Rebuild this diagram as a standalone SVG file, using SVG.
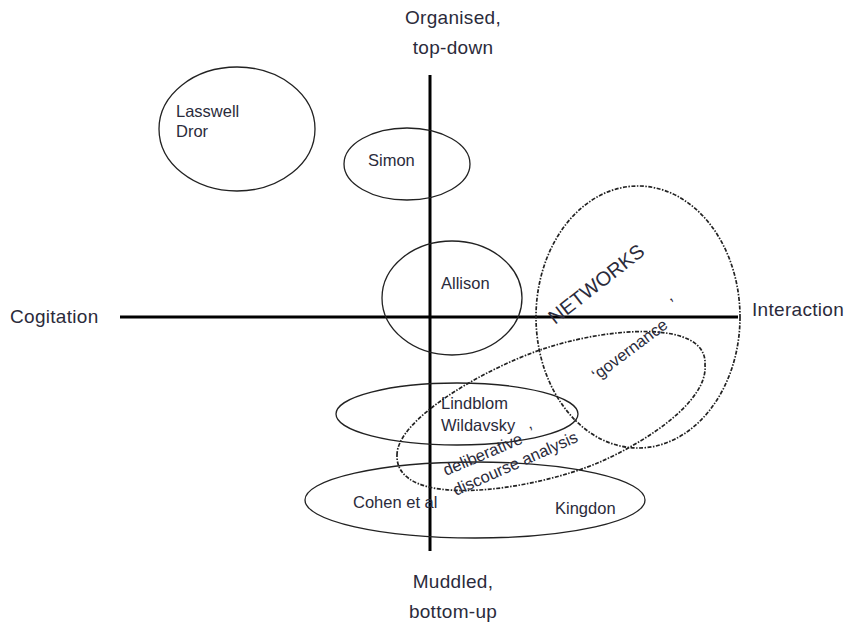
<svg xmlns="http://www.w3.org/2000/svg" width="851" height="632" viewBox="0 0 851 632">
<style>
.t{font-family:"Liberation Sans",Arial,sans-serif;font-size:16.5px;fill:#2b2b3b}
.ax{font-family:"Liberation Sans",Arial,sans-serif;font-size:19px;fill:#2b2b3b;letter-spacing:0.3px}
.e{fill:none;stroke:#222;stroke-width:1.3}
.d{fill:none;stroke:#222;stroke-width:1.7;stroke-dasharray:4 1.5 1.5 1.5}
.axis{stroke:#000;stroke-width:3}
</style>
<rect width="851" height="632" fill="#fff"/>
<g id="axes">
<line class="axis" x1="430" y1="75" x2="430" y2="551"/>
<line class="axis" x1="120" y1="317" x2="738" y2="317"/>
</g>
<g id="axis-labels">
<text class="ax" x="453" y="24" text-anchor="middle">Organised,</text>
<text class="ax" x="453" y="54" text-anchor="middle">top-down</text>
<text class="ax" x="10" y="323">Cogitation</text>
<text class="ax" x="752" y="316">Interaction</text>
<text class="ax" x="453" y="588" text-anchor="middle">Muddled,</text>
<text class="ax" x="453" y="618" text-anchor="middle">bottom-up</text>
</g>
<g id="lasswell">
<ellipse class="e" cx="237" cy="129" rx="78" ry="62"/>
<text class="t" x="176" y="117">Lasswell</text>
<text class="t" x="176" y="137">Dror</text>
</g>
<g id="simon">
<ellipse class="e" cx="407" cy="164" rx="63" ry="36"/>
<text class="t" x="368" y="166">Simon</text>
</g>
<g id="allison">
<ellipse class="e" cx="452" cy="298" rx="70" ry="57"/>
<text class="t" x="441" y="289">Allison</text>
</g>
<g id="lindblom">
<ellipse class="e" cx="457" cy="414" rx="121" ry="31"/>
<text class="t" x="441" y="409">Lindblom</text>
<text class="t" x="441" y="431">Wildavsky</text>
</g>
<g id="cohen">
<ellipse class="e" cx="475" cy="500" rx="170" ry="38"/>
<text class="t" x="353" y="508">Cohen et al</text>
<text class="t" x="555" y="514">Kingdon</text>
</g>
<g id="networks">
<ellipse class="d" cx="638" cy="317" rx="102" ry="131"/>
<text class="t" style="font-size:20px" transform="translate(555,325) rotate(-38)">NETWORKS</text>
</g>
<g id="deliberative">
<path class="d" d="M397,455 C397,420 480,371 540,350 C610,326 708,320 705,365 C708,400 650,440 600,462 C530,492 395,510 397,455 Z"/>
<text class="t" transform="translate(597,381) rotate(-37)">‘governance</text>
<text class="t" transform="translate(676,309) rotate(-37)">’</text>
<text class="t" transform="translate(446,476) rotate(-23)">deliberative</text>
<text class="t" transform="translate(533,438) rotate(-23)">’</text>
<text class="t" transform="translate(456,496) rotate(-24)">discourse  analysis</text>
</g>
</svg>
